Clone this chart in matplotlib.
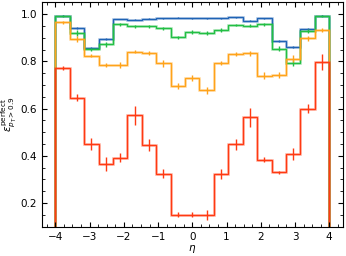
import numpy as np
import matplotlib
matplotlib.use("Agg")
import matplotlib.pyplot as plt
from matplotlib.ticker import AutoMinorLocator

# 19 eta bins from -4 to 4
edges = np.linspace(-4, 4, 20)

eff_blue = [0.994, 0.943, 0.857, 0.895, 0.980, 0.976, 0.981, 0.983, 0.986, 0.984,
            0.984, 0.984, 0.987, 0.973, 0.984, 0.888, 0.862, 0.938, 0.994]
err_blue = [0.002, 0.004, 0.004, 0.004, 0.002, 0.002, 0.002, 0.002, 0.002, 0.002,
            0.002, 0.002, 0.002, 0.003, 0.002, 0.004, 0.004, 0.004, 0.002]

eff_green = [0.992, 0.921, 0.851, 0.873, 0.958, 0.949, 0.949, 0.940, 0.902, 0.924,
             0.921, 0.933, 0.955, 0.952, 0.958, 0.854, 0.793, 0.929, 0.993]
err_green = [0.004, 0.012, 0.008, 0.010, 0.006, 0.005, 0.006, 0.007, 0.008, 0.008,
             0.008, 0.007, 0.006, 0.006, 0.007, 0.010, 0.012, 0.010, 0.004]

eff_orange = [0.967, 0.894, 0.825, 0.785, 0.785, 0.842, 0.835, 0.792, 0.696, 0.729,
              0.679, 0.795, 0.832, 0.835, 0.739, 0.742, 0.812, 0.898, 0.934]
err_orange = [0.006, 0.012, 0.008, 0.010, 0.012, 0.008, 0.008, 0.015, 0.012, 0.012,
              0.015, 0.008, 0.010, 0.010, 0.015, 0.012, 0.015, 0.012, 0.010]

eff_red = [0.772, 0.647, 0.449, 0.364, 0.392, 0.573, 0.446, 0.325, 0.151, 0.151,
           0.150, 0.322, 0.449, 0.564, 0.384, 0.330, 0.408, 0.600, 0.797]
err_red = [0.010, 0.015, 0.025, 0.030, 0.020, 0.040, 0.025, 0.020, 0.012, 0.010,
           0.022, 0.022, 0.022, 0.040, 0.012, 0.006, 0.025, 0.020, 0.035]

series = [
    (eff_blue, err_blue, "#1f63b5"),
    (eff_green, err_green, "#22bf44"),
    (eff_orange, err_orange, "#ffa31a"),
    (eff_red, err_red, "#ff3a12"),
]

plt.rcParams["font.size"] = 7
plt.rcParams["mathtext.fontset"] = "dejavusans"

fig = plt.figure(figsize=(3.46, 2.56), dpi=100)
ax = fig.add_axes([0.1205, 0.1145, 0.8705, 0.8785])

centers = 0.5 * (edges[1:] + edges[:-1])
for y, e, c in series:
    ax.stairs(y, edges, baseline=0, color=c, lw=2.0, alpha=0.3)
    ax.stairs(y, edges, baseline=0, color=c, lw=1.0)
    ax.errorbar(centers, y, yerr=e, fmt="none", ecolor=c, elinewidth=1.0)

ax.set_xlim(-4.4, 4.4)
ax.set_ylim(0.1, 1.053)
ax.set_xticks([-4, -3, -2, -1, 0, 1, 2, 3, 4])
ax.set_yticks([0.2, 0.4, 0.6, 0.8, 1.0])
ax.xaxis.set_minor_locator(AutoMinorLocator(4))
ax.yaxis.set_minor_locator(AutoMinorLocator(4))
ax.tick_params(which="both", direction="in", top=True, right=True, labelsize=7.5)
ax.tick_params(which="major", length=3.5)
ax.tick_params(which="minor", length=2)
ax.set_xlabel(r"$\eta$", fontsize=7.5, labelpad=1)
ax.set_ylabel(r"$\epsilon^{\rm perfect}_{p_T>0.9}$", fontsize=7.5, labelpad=1)

fig.savefig("out.png", dpi=100)
